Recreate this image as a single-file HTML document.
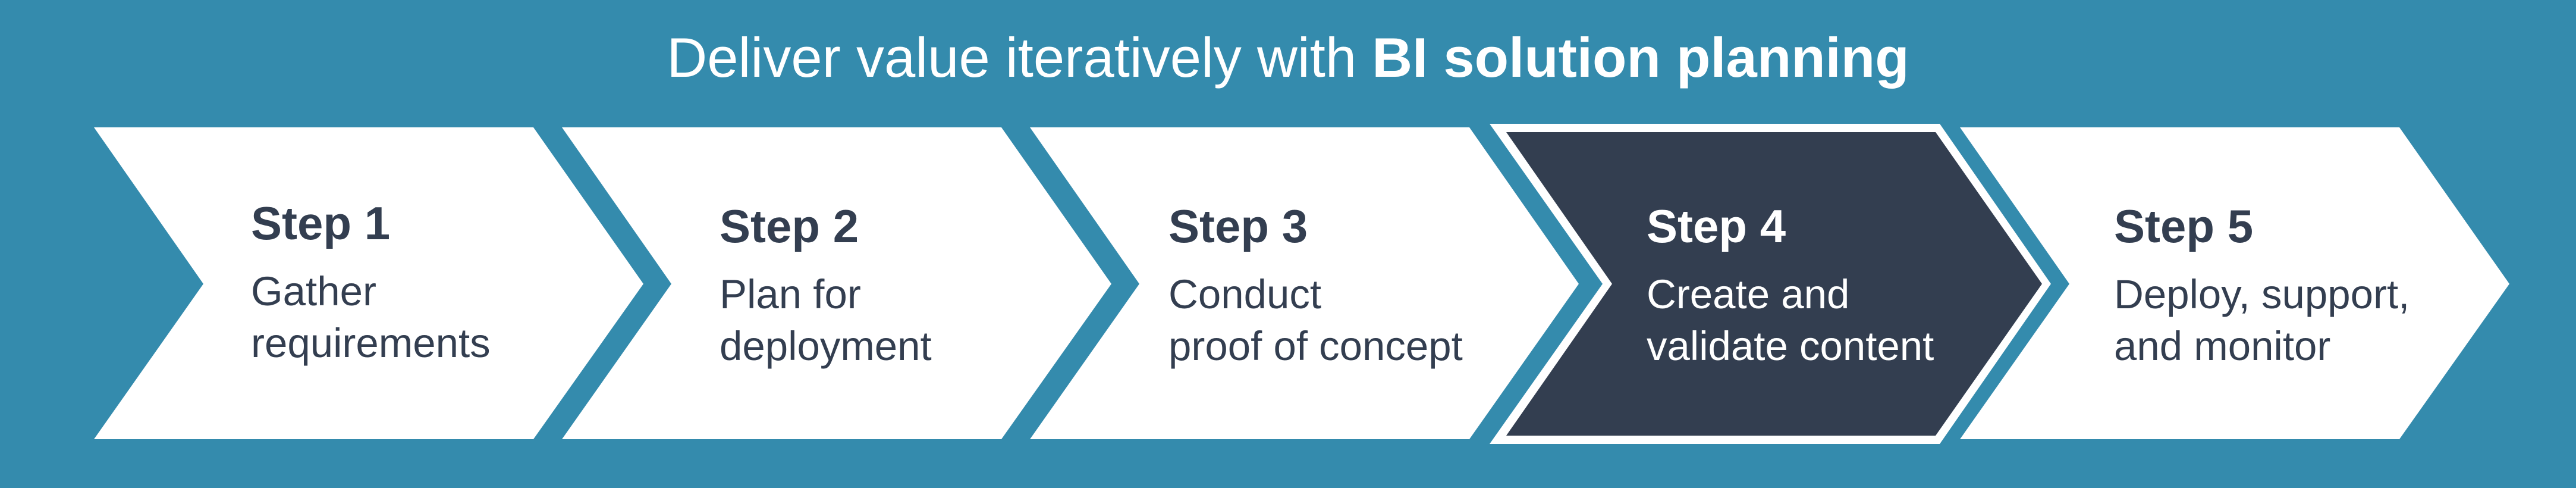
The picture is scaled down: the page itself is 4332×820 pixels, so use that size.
<!DOCTYPE html>
<html><head><meta charset="utf-8"><style>
html,body{margin:0;padding:0;background:#348bad;}
svg{display:block;}
text{font-family:"Liberation Sans",sans-serif;}
</style></head><body>
<svg width="4332" height="820" viewBox="0 0 4332 820">
<rect x="0" y="0" width="4332" height="820" fill="#348bad"/>
<text x="2166" y="129" text-anchor="middle" font-size="94" fill="#ffffff">Deliver value iteratively with <tspan font-weight="bold">BI solution planning</tspan></text>

<g>
<polygon points="158,214 897,214 1082,477 897,738 158,738 342,477" fill="#ffffff"/>
<text x="422" y="402" font-size="78" font-weight="bold" fill="#333e50">Step 1</text>
<text x="422" y="513" font-size="69" fill="#333e50">Gather</text>
<text x="422" y="600" font-size="69" fill="#333e50">requirements</text>
</g>
<g>
<polygon points="945,214 1684,214 1869,477 1684,738 945,738 1129,477" fill="#ffffff"/>
<text x="1210" y="407" font-size="78" font-weight="bold" fill="#333e50">Step 2</text>
<text x="1210" y="518" font-size="69" fill="#333e50">Plan for</text>
<text x="1210" y="605" font-size="69" fill="#333e50">deployment</text>
</g>
<g>
<polygon points="1732,214 2471,214 2655,477 2471,738 1732,738 1916,477" fill="#ffffff"/>
<text x="1965" y="407" font-size="78" font-weight="bold" fill="#333e50">Step 3</text>
<text x="1965" y="518" font-size="69" fill="#333e50">Conduct</text>
<text x="1965" y="605" font-size="69" fill="#333e50">proof of concept</text>
</g>
<g>
<polygon points="2505,208 3262,208 3449,477 3262,746 2505,746 2695,477" fill="#ffffff"/>
<polygon points="2533,222 3255,222 3434,477 3255,732 2533,732 2711,477" fill="#333e50"/>
<text x="2769" y="407" font-size="78" font-weight="bold" fill="#ffffff">Step 4</text>
<text x="2769" y="518" font-size="69" fill="#ffffff">Create and</text>
<text x="2769" y="605" font-size="69" fill="#ffffff">validate content</text>
</g>
<g>
<polygon points="3296,214 4035,214 4220,477 4035,738 3296,738 3480,477" fill="#ffffff"/>
<text x="3555" y="407" font-size="78" font-weight="bold" fill="#333e50">Step 5</text>
<text x="3555" y="518" font-size="69" fill="#333e50">Deploy, support,</text>
<text x="3555" y="605" font-size="69" fill="#333e50">and monitor</text>
</g>
</svg>
</body></html>
